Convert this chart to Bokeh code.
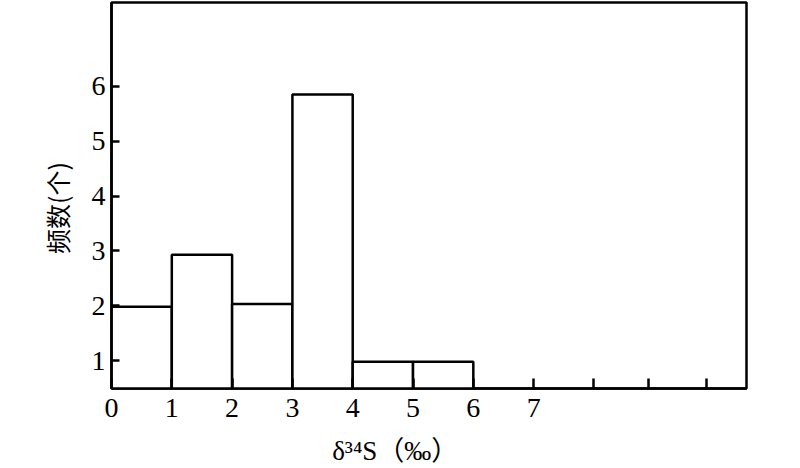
from bokeh.plotting import figure
from bokeh.models import Range1d, FixedTicker
from bokeh.embed import file_html
from bokeh.resources import INLINE

# data: histogram bins of delta34S (permil) and counts
bin_left = [0, 1, 2, 3, 4, 5]
bin_right = [1, 2, 3, 4, 5, 6]
counts = [1.98, 2.93, 2.03, 5.85, 0.98, 0.98]

x_tick_values = [0, 1, 2, 3, 4, 5, 6, 7, 8, 8.9, 9.87]
x_tick_labels = ["0", "1", "2", "3", "4", "5", "6", "7", "", "", ""]
y_tick_values = [1, 2, 3, 4, 5, 6]

x_label = "δ³⁴S（‰）"
y_label = "频数(个)"

p = figure(width=792, height=468, output_backend="svg", toolbar_location=None,
           x_range=Range1d(0, 10.53), y_range=Range1d(0.49, 7.53),
           min_border_left=111, min_border_right=46, min_border_top=2, min_border_bottom=80)
p.background_fill_color = "white"
p.border_fill_color = "white"
p.grid.visible = False
p.outline_line_color = "black"
p.outline_line_width = 2.5

p.quad(left=bin_left, right=bin_right, bottom=0, top=counts,
       fill_color="white", line_color="black", line_width=2.5)

serif = "Liberation Serif"

xa = p.xaxis[0]
xa.ticker = FixedTicker(ticks=x_tick_values)
xa.major_label_overrides = {v: t for v, t in zip(x_tick_values, x_tick_labels)}
xa.major_tick_in = 10
xa.major_tick_out = 0
xa.minor_tick_line_color = None
xa.axis_line_width = 2.5
xa.major_tick_line_width = 2.5
xa.major_label_text_font = serif
xa.major_label_text_font_size = "28px"
xa.major_label_text_color = "black"
xa.major_label_standoff = 10
# trailing ideographic spaces shift the visible label left of the frame centre
xa.axis_label = x_label + "\u3000\u3000\u3000"
xa.axis_label_text_font = "Liberation Serif, Noto Sans CJK SC"
xa.axis_label_text_font_style = "normal"
xa.axis_label_text_font_size = "27px"
xa.axis_label_text_color = "black"
xa.axis_label_standoff = 16

ya = p.yaxis[0]
ya.ticker = FixedTicker(ticks=y_tick_values)
ya.major_tick_in = 8
ya.major_tick_out = 0
ya.minor_tick_line_color = None
ya.axis_line_width = 2.5
ya.major_tick_line_width = 2.5
ya.major_label_text_font = serif
ya.major_label_text_font_size = "28px"
ya.major_label_text_color = "black"
ya.major_label_standoff = 6
ya.axis_label = y_label + "\u3000"
ya.axis_label_text_font = "Noto Sans CJK SC"
ya.axis_label_text_font_style = "normal"
ya.axis_label_text_font_size = "25px"
ya.axis_label_text_color = "black"
ya.axis_label_standoff = 14

open("out.html", "w").write(file_html(p, INLINE))
